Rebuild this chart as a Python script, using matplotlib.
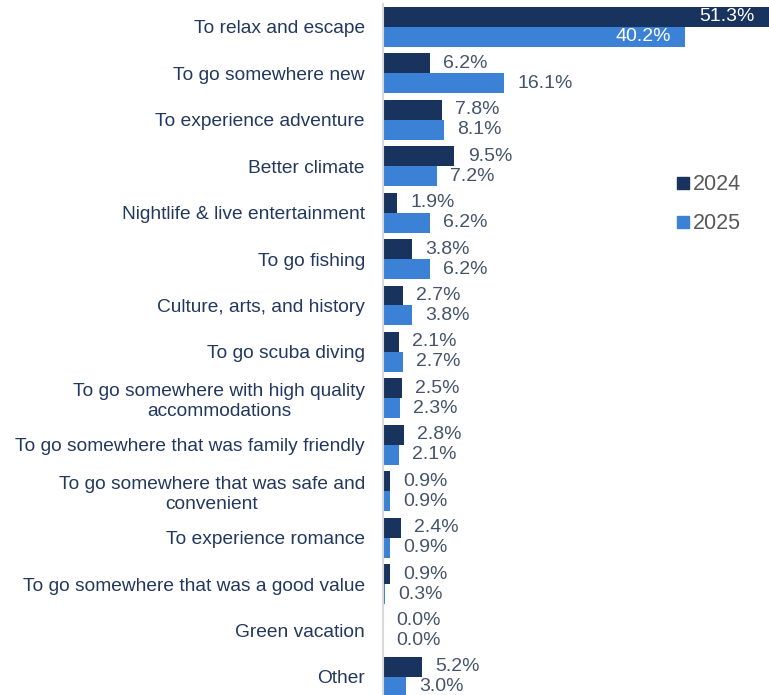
import numpy as np
import matplotlib.pyplot as plt
from matplotlib.lines import Line2D

plt.rcParams['font.family'] = ['Liberation Sans', 'DejaVu Sans']

categories = ['To relax and escape', 'To go somewhere new', 'To experience adventure',
              'Better climate', 'Nightlife & live entertainment', 'To go fishing',
              'Culture, arts, and history', 'To go scuba diving',
              'To go somewhere with high quality\naccommodations',
              'To go somewhere that was family friendly',
              'To go somewhere that was safe and\nconvenient',
              'To experience romance', 'To go somewhere that was a good value',
              'Green vacation', 'Other']
vals_2024 = [51.3, 6.2, 7.8, 9.5, 1.9, 3.8, 2.7, 2.1, 2.5, 2.8, 0.9, 2.4, 0.9, 0.0, 5.2]
vals_2025 = [40.2, 16.1, 8.1, 7.2, 6.2, 6.2, 3.8, 2.7, 2.3, 2.1, 0.9, 0.9, 0.3, 0.0, 3.0]

c24 = '#17335e'
c25 = '#3b82d6'
lab_col = '#44546a'

fig = plt.figure(figsize=(7.69, 6.95), dpi=100)
ax = fig.add_axes([0.498, 0, 0.502, 1])

y = np.arange(len(categories))
h = 0.43
ax.barh(y - h / 2, vals_2024, height=h, color=c24)
ax.barh(y + h / 2, vals_2025, height=h, color=c25)

for i in range(len(categories)):
    for v, off in ((vals_2024[i], -h / 2), (vals_2025[i], h / 2)):
        if v > 30:
            ax.annotate(f'{v:.1f}%', (v, i + off), xytext=(-10.5, 0), textcoords='offset points',
                        ha='right', va='center', color='white', fontsize=14)
        else:
            ax.annotate(f'{v:.1f}%', (v, i + off), xytext=(9.5, 0), textcoords='offset points',
                        ha='left', va='center', color=lab_col, fontsize=14)

ax.set_xlim(0, 51.3)
ax.set_ylim(14.39, -0.58)
ax.set_yticks(y)
ax.set_yticklabels(categories, fontsize=13.8, color='#22385e', ha='right', multialignment='center',
                   linespacing=1.2)
ax.tick_params(axis='y', length=0, pad=13)
ax.set_xticks([])
for s in ['top', 'right', 'bottom']:
    ax.spines[s].set_visible(False)
ax.spines['left'].set_color('#d9d9d9')
ax.spines['left'].set_linewidth(1.5)
ax.spines['left'].set_bounds(14.39, -0.49)

handles = [Line2D([], [], marker='s', linestyle='', color=c24, markersize=8),
           Line2D([], [], marker='s', linestyle='', color=c25, markersize=8)]
leg = fig.legend(handles, ['2024', '2025'], loc='center left', bbox_to_anchor=(0.855, 0.706),
                 frameon=False, fontsize=15.5, handlelength=0.6, handletextpad=0.15,
                 labelspacing=0.85, labelcolor='#595959')

fig.savefig('out.png', dpi=100)
